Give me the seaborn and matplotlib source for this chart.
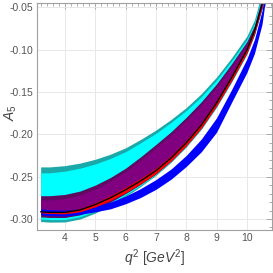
import numpy as np
import pandas as pd
import matplotlib
matplotlib.use("Agg")
import matplotlib.pyplot as plt
import seaborn as sns
from matplotlib.ticker import MultipleLocator

# valores
q2 = [3.2, 3.5, 4.0, 4.5, 5.0, 5.5, 6.0, 6.5, 7.0, 7.5, 8.0, 8.5, 9.0, 9.5, 10.0, 10.25, 10.5, 10.6]

central = [-0.2915, -0.2922, -0.2922, -0.2893, -0.2830, -0.2750, -0.2655, -0.2550, -0.2430,
           -0.2280, -0.2100, -0.1890, -0.1630, -0.1330, -0.1005, -0.0780, -0.0470, -0.0300]

teal_hi = [-0.2385, -0.2385, -0.2370, -0.2340, -0.2295, -0.2235, -0.2160, -0.2060, -0.1950,
           -0.1825, -0.1685, -0.1520, -0.1325, -0.1095, -0.0840, -0.0650, -0.0320, -0.0140]
teal_lo = [-0.3030, -0.3037, -0.3035, -0.3000, -0.2930, -0.2840, -0.2735, -0.2615, -0.2485,
           -0.2330, -0.2150, -0.1940, -0.1680, -0.1380, -0.1055, -0.0830, -0.0520, -0.0350]

cyan_hi = [-0.2455, -0.2455, -0.2435, -0.2400, -0.2350, -0.2285, -0.2205, -0.2100, -0.1990,
           -0.1860, -0.1720, -0.1555, -0.1360, -0.1130, -0.0880, -0.0690, -0.0360, -0.0180]
cyan_lo = [-0.3000, -0.3007, -0.3007, -0.2973, -0.2905, -0.2818, -0.2715, -0.2602, -0.2475,
           -0.2322, -0.2142, -0.1932, -0.1672, -0.1372, -0.1047, -0.0822, -0.0512, -0.0342]

pdark_hi = [-0.2725, -0.2725, -0.2710, -0.2670, -0.2600, -0.2510, -0.2400, -0.2265, -0.2120,
            -0.1970, -0.1800, -0.1615, -0.1405, -0.1165, -0.0905, -0.0715, -0.0385, -0.0205]
pdark_lo = [-0.2975, -0.2982, -0.2982, -0.2951, -0.2885, -0.2800, -0.2700, -0.2590, -0.2468,
            -0.2316, -0.2136, -0.1926, -0.1666, -0.1366, -0.1041, -0.0816, -0.0506, -0.0336]

purple_hi = [-0.2775, -0.2775, -0.2758, -0.2715, -0.2645, -0.2550, -0.2438, -0.2302, -0.2156,
             -0.2005, -0.1835, -0.1650, -0.1440, -0.1200, -0.0940, -0.0750, -0.0420, -0.0240]
purple_lo = [-0.2930, -0.2937, -0.2938, -0.2911, -0.2850, -0.2770, -0.2675, -0.2570, -0.2450,
             -0.2300, -0.2120, -0.1910, -0.1650, -0.1350, -0.1025, -0.0800, -0.0490, -0.0320]

blue_hi = [-0.2880, -0.2890, -0.2895, -0.2880, -0.2850, -0.2800, -0.2730, -0.2640, -0.2535,
           -0.2410, -0.2250, -0.2055, -0.1805, -0.1470, -0.1110, -0.0880, -0.0540, -0.0300]
blue_lo = [-0.2950, -0.2960, -0.2965, -0.2945, -0.2915, -0.2880, -0.2820, -0.2745, -0.2650,
           -0.2530, -0.2380, -0.2205, -0.1975, -0.1620, -0.1270, -0.1045, -0.0700, -0.0440]

red_hi = [-0.2909, -0.2914, -0.2910, -0.2876, -0.2808, -0.2724, -0.2625, -0.2520, -0.2400,
          -0.2250, -0.2070, -0.1860, -0.1600, -0.1300, -0.0975, -0.0750, -0.0440, -0.0270]
red_lo = [-0.2926, -0.2935, -0.2939, -0.2915, -0.2857, -0.2781, -0.2690, -0.2585, -0.2465,
          -0.2315, -0.2135, -0.1925, -0.1665, -0.1365, -0.1040, -0.0815, -0.0505, -0.0335]

xticks = [4, 5, 6, 7, 8, 9, 10]
yticks = [-0.05, -0.10, -0.15, -0.20, -0.25, -0.30]
ytick_labels = ['-0.05', '-0.10', '-0.15', '-0.20', '-0.25', '-0.30']

df = pd.DataFrame({'q2': q2, 'A5': central})

sns.set_style("white")
plt.rcParams['font.family'] = ['Liberation Sans Narrow', 'Liberation Sans', 'DejaVu Sans']
plt.rcParams['mathtext.fontset'] = 'custom'
plt.rcParams['mathtext.it'] = 'Liberation Sans:italic'
plt.rcParams['mathtext.rm'] = 'Liberation Sans'

fig = plt.figure(figsize=(2.73, 2.73), dpi=100)
ax = fig.add_axes([0.1355, 0.159, 0.861, 0.830])

# bandas, de atras hacia adelante
ax.fill_between(q2, teal_lo, teal_hi, color='#1aa8a8', lw=0)
ax.fill_between(q2, cyan_lo, cyan_hi, color='#00ffff', lw=0)
ax.fill_between(q2, pdark_lo, pdark_hi, color='#5e0a5e', lw=0)
ax.fill_between(q2, purple_lo, purple_hi, color='#800080', lw=0)
ax.fill_between(q2, blue_lo, blue_hi, color='#0000ff', lw=0)
ax.fill_between(q2, red_lo, red_hi, color='#ff0000', lw=0)
sns.lineplot(data=df, x='q2', y='A5', color='black', lw=1.0, ax=ax)

ax.set_xlim(3.08, 10.83)
ax.set_ylim(-0.3125, -0.045)

ax.xaxis.set_minor_locator(MultipleLocator(0.2))
ax.yaxis.set_minor_locator(MultipleLocator(0.01))
ax.set_yticks(yticks)
ax.set_yticklabels(ytick_labels)
ax.set_xticks(xticks)

ax.grid(True, which='major', color='#e8e8e8', lw=0.7)
ax.set_axisbelow(True)
for s in ax.spines.values():
    s.set_color('#a0a0a0')
    s.set_linewidth(0.8)
ax.tick_params(which='both', direction='in', top=True, right=True, color='#a0a0a0',
               labelcolor='#555555', labelsize=7.5, width=0.6, pad=2.5)
ax.tick_params(which='major', length=4)
ax.tick_params(which='minor', length=2)

ax.set_xlabel(r'$q^2$ [$GeV^2$]', fontsize=10, color='#444444', labelpad=3)
ax.set_ylabel('')
fig.text(11 / 273, 1 - 113 / 273, r'$A_5$', rotation=90, ha='center', va='center',
         fontsize=10, color='#444444')

fig.savefig('out.png', dpi=100)
